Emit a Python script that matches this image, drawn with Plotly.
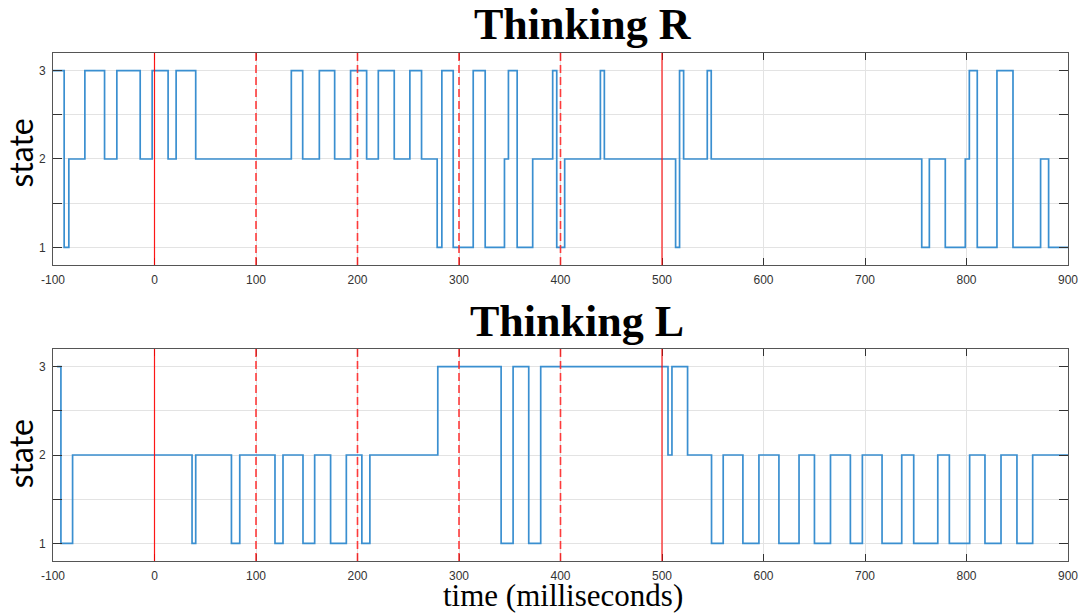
import plotly.graph_objects as go

# ---------------- data ----------------
# Thinking R: state change times (ms) and the state held from that time on
r_times = [-100, -89.0, -84.4, -68.6, -49.2, -37.1, -14.1, -2.3, 13.4, 21.3, 40.6,
           134.8, 146.0, 162.4, 177.5, 193.2, 209.0, 220.5, 236.2, 251.6, 263.1,
           278.5, 283.1, 294.3, 314.0, 325.8, 344.8, 348.7, 357.3, 372.6, 392.3,
           396.3, 404.1, 439.3, 443.2, 513.4, 517.3, 521.3, 544.6, 548.5, 755.9,
           763.4, 779.1, 798.8, 802.8, 810.6, 830.0, 845.8, 873.0, 880.9, 900]
r_states = [3, 1, 2, 3, 2, 3, 2, 3, 2, 3, 2,
            3, 2, 3, 2, 3, 2, 3, 2, 3, 2,
            1, 3, 1, 3, 1, 2, 3, 1, 2, 3,
            1, 2, 3, 2, 1, 3, 2, 3, 2, 1,
            2, 1, 2, 3, 1, 3, 1, 2, 1, 1]

# Thinking L
l_times = [-96, -92.2, -80.7, 37.0, 40.6, 75.8, 84.0, 118.7, 126.6, 146.3, 157.8,
           173.5, 189.0, 204.3, 212.2, 279.1, 341.5, 353.3, 368.7, 380.5, 505.9,
           509.8, 525.2, 548.8, 560.3, 579.7, 595.5, 615.2, 635.0, 650.2, 666.0,
           685.6, 697.4, 716.8, 736.2, 748.0, 771.7, 783.1, 803.1, 818.2, 834.0,
           849.7, 865.2, 900]
l_states = [3, 1, 2, 1, 2, 1, 2, 1, 2, 1, 2,
            1, 2, 1, 2, 3, 1, 3, 1, 3, 2,
            3, 2, 1, 2, 1, 2, 1, 2, 1, 2,
            1, 2, 1, 2, 1, 2, 1, 2, 1, 2,
            1, 2, 2]

event_times = [0, 500]            # solid red markers
cue_times = [100, 200, 300, 400]  # dashed red markers

x_ticks = [-100, 0, 100, 200, 300, 400, 500, 600, 700, 800, 900]
x_tick_labels = ["-100", "0", "100", "200", "300", "400", "500", "600", "700", "800", "900"]
y_ticks = [1, 2, 3]
y_tick_labels = ["1", "2", "3"]
titles = ["Thinking R", "Thinking L"]
y_label = "state"
x_label = "time (milliseconds)"

# ---------------- figure ----------------
BLUE = "#3a8fd0"
AX = "#333333"

fig = go.Figure()
fig.add_trace(go.Scatter(x=r_times, y=r_states, mode="lines", line_shape="hv",
                         line=dict(color=BLUE, width=1.7), xaxis="x", yaxis="y",
                         showlegend=False, hoverinfo="skip"))
fig.add_trace(go.Scatter(x=l_times, y=l_states, mode="lines", line_shape="hv",
                         line=dict(color=BLUE, width=1.7), xaxis="x2", yaxis="y2",
                         showlegend=False, hoverinfo="skip"))

tick_font = dict(family="Liberation Sans, Arial", size=12, color="#333333")
common_x = dict(range=[-100, 900], tickmode="array", tickvals=x_ticks, ticktext=x_tick_labels,
                ticks="inside", ticklen=7, tickcolor=AX, tickwidth=1,
                showline=True, linecolor="#555555", linewidth=1, mirror="ticks",
                showgrid=True, gridcolor="#e3e3e3", gridwidth=1, zeroline=False,
                tickfont=tick_font, ticklabelstandoff=4, automargin=False)
common_y = dict(range=[0.8, 3.2], tickmode="array", tickvals=y_ticks, ticktext=y_tick_labels,
                ticks="inside", ticklen=9, tickcolor=AX, tickwidth=1,
                showline=True, linecolor="#555555", linewidth=1, mirror="ticks",
                showgrid=True, gridcolor="#e3e3e3", gridwidth=1, zeroline=False,
                minor=dict(dtick=0.5, tick0=1, ticks="inside", ticklen=9, tickcolor=AX,
                           showgrid=True, gridcolor="#e3e3e3", gridwidth=1),
                tickfont=tick_font, ticklabelstandoff=4, automargin=False)

fig.update_layout(
    width=1085, height=615,
    margin=dict(l=53, r=17, t=53, b=54),
    paper_bgcolor="white", plot_bgcolor="white",
    xaxis=dict(common_x, domain=[0, 1], anchor="y"),
    yaxis=dict(common_y, domain=[0.5827, 1], anchor="x"),
    xaxis2=dict(common_x, domain=[0, 1], anchor="y2"),
    yaxis2=dict(common_y, domain=[0, 0.4173], anchor="x2"),
)

shapes = []
for xa, ya in [("x", "y"), ("x2", "y2")]:
    for t in event_times:
        shapes.append(dict(type="line", xref=xa, yref=f"{ya} domain", x0=t, x1=t, y0=0, y1=1,
                           line=dict(color="rgba(255,0,0,0.9)", width=1.2), layer="above"))
    for t in cue_times:
        shapes.append(dict(type="line", xref=xa, yref=f"{ya} domain", x0=t, x1=t, y0=0, y1=1,
                           line=dict(color="rgba(255,40,40,0.9)", width=1.6, dash="8px,4px"),
                           layer="above"))
fig.update_layout(shapes=shapes)

title_font = dict(family="Liberation Serif, Times New Roman", size=44, color="black")
ann = [
    dict(text=f"<b>{titles[0]}</b>", x=0.522, y=1.056, xref="paper", yref="paper",
         xanchor="center", yanchor="middle", showarrow=False, font=title_font),
    dict(text=f"<b>{titles[1]}</b>", x=0.516, y=0.472, xref="paper", yref="paper",
         xanchor="center", yanchor="middle", showarrow=False, font=title_font),
    dict(text=x_label, x=0.502, y=-0.068, xref="paper", yref="paper",
         xanchor="center", yanchor="middle", showarrow=False,
         font=dict(family="Liberation Serif, Times New Roman", size=31, color="black")),
    dict(text=y_label, x=-0.032, y=0.803, xref="paper", yref="paper", textangle=-90,
         xanchor="center", yanchor="middle", showarrow=False,
         font=dict(family="Lato, Open Sans", size=32, color="black")),
    dict(text=y_label, x=-0.032, y=0.211, xref="paper", yref="paper", textangle=-90,
         xanchor="center", yanchor="middle", showarrow=False,
         font=dict(family="Lato, Open Sans", size=32, color="black")),
]
fig.update_layout(annotations=ann)

fig.write_html("out.html", config={"displayModeBar": False},
               post_script="document.body.style.margin='0';document.body.style.padding='0';")
